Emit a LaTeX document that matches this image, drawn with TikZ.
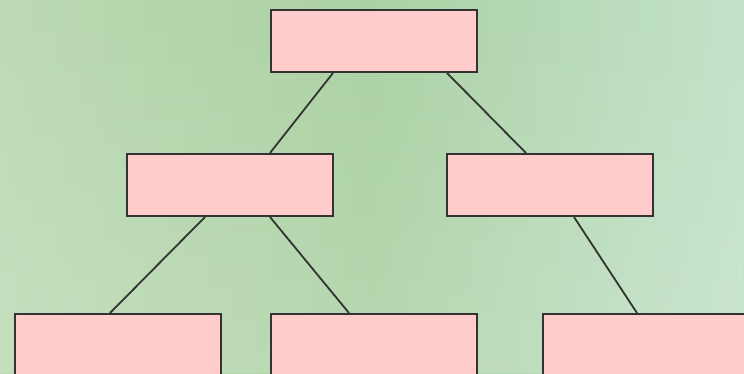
\documentclass[tikz,border=0pt]{standalone}
\usetikzlibrary{fadings}
\definecolor{bgA}{HTML}{BCDAB4}
\definecolor{bgB}{HTML}{ABD1A3}
\definecolor{bgC}{HTML}{C2E2CA}
\definecolor{boxfill}{HTML}{FFCCCC}
\definecolor{boxline}{HTML}{333333}
\tikzset{
  box/.style={draw=boxline, fill=boxfill, line width=2pt, minimum width=206pt, minimum height=62pt, inner sep=0pt},
  link/.style={draw=boxline, line width=1.8pt}
}
\begin{document}
\begin{tikzpicture}[x=1pt,y=-1pt]
\useasboundingbox (0,0) rectangle (744,373);
\clip (0,0) rectangle (744,373);
\shade[left color=bgA, right color=bgC, middle color=bgB] (0,0) rectangle (744,373);
\fill[white, opacity=0.15, path fading=north] (0,0) rectangle (744,373);
\node[box] (top) at (374,41) {};
\node[box] (ml) at (230,185) {};
\node[box] (mr) at (550,185) {};
\node[box] (bl) at (118,345) {};
\node[box] (bm) at (374,345) {};
\node[box] (br) at (646,345) {};
\draw[link] ([xshift=-41pt]top.south) -- ([xshift=40pt]ml.north);
\draw[link] ([xshift=73pt]top.south) -- ([xshift=-24pt]mr.north);
\draw[link] ([xshift=-25pt]ml.south) -- ([xshift=-8pt]bl.north);
\draw[link] ([xshift=40pt]ml.south) -- ([xshift=-25pt]bm.north);
\draw[link] ([xshift=24pt]mr.south) -- ([xshift=-9pt]br.north);
\end{tikzpicture}
\end{document}
